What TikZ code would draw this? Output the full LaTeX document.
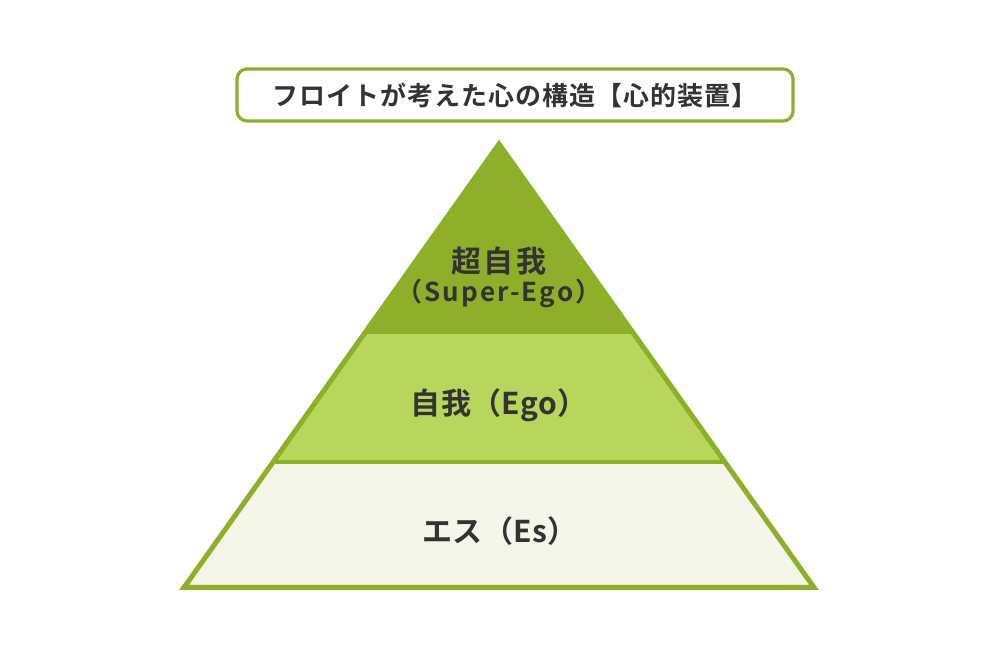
\documentclass[tikz,border=0pt]{standalone}
\usepackage{fontspec}
\setmainfont{Noto Sans CJK JP}[BoldFont={Noto Sans CJK JP Bold}]
\newfontfamily\ttlfont{Noto Sans CJK JP Bold}[LetterSpace=4]
\newfontfamily\lyrfont{Noto Sans CJK JP Bold}[LetterSpace=8]
\newfontfamily\midfont{Noto Sans CJK JP Bold}[LetterSpace=1]
\definecolor{pyr_dark}{RGB}{143, 174, 41}
\definecolor{pyr_line}{RGB}{140, 176, 42}
\definecolor{pyr_mid}{RGB}{184, 214, 92}
\definecolor{pyr_low}{RGB}{244, 246, 234}
\definecolor{txt}{RGB}{51, 51, 51}
\tikzstyle{ttl}=[draw=pyr_line,line width=1.6pt,rounded corners=5pt,
  minimum width=278pt,minimum height=26pt,inner sep=0pt,text=txt,
  font=\ttlfont\fontsize{13pt}{15pt}\selectfont]
\tikzstyle{lbl}=[text=txt,inner sep=0pt,font=\lyrfont\fontsize{15pt}{17pt}\selectfont]
\tikzstyle{mid}=[text=txt,inner sep=0pt,font=\midfont\fontsize{15pt}{17pt}\selectfont]
\tikzstyle{sub}=[text=txt,inner sep=0pt,font=\lyrfont\fontsize{13pt}{15pt}\selectfont]
\tikzstyle{none}=[]

\begin{document}
\begin{tikzpicture}[x=0.5pt, y=0.5pt]
    \useasboundingbox (0, 0) rectangle (1000, 667);
    % outline points
    \coordinate (a) at (499, 523);
    \coordinate (bl) at (184, 79.5);
    \coordinate (br) at (814, 79.5);
    \coordinate (ul) at (364, 333);
    \coordinate (ur) at (634, 333);
    \coordinate (ml) at (273, 205);
    \coordinate (mr) at (725, 205);
    % layers
    \fill [pyr_low] (ml) -- (mr) -- (br) -- (bl) -- cycle;
    \fill [pyr_mid] (ul) -- (ur) -- (mr) -- (ml) -- cycle;
    \fill [pyr_dark] (a) -- (ur) -- (ul) -- cycle;
    \draw [pyr_line, line width=2pt] (ml) -- (mr);
    \draw [pyr_line, line width=2.5pt] (a) -- (br) -- (bl) -- cycle;
    % texts
    \node [style=ttl] (0) at (515, 572) {フロイトが考えた心の構造【心的装置】};
    \node [style=lbl] (1) at (499, 406) {超自我};
    \node [style=sub] (2) at (499, 374) {（Super-Ego）};
    \node [style=mid] (3) at (499, 262) {自我（Ego）};
    \node [style=mid] (4) at (500, 136) {エス（Es）};
\end{tikzpicture}
\end{document}
